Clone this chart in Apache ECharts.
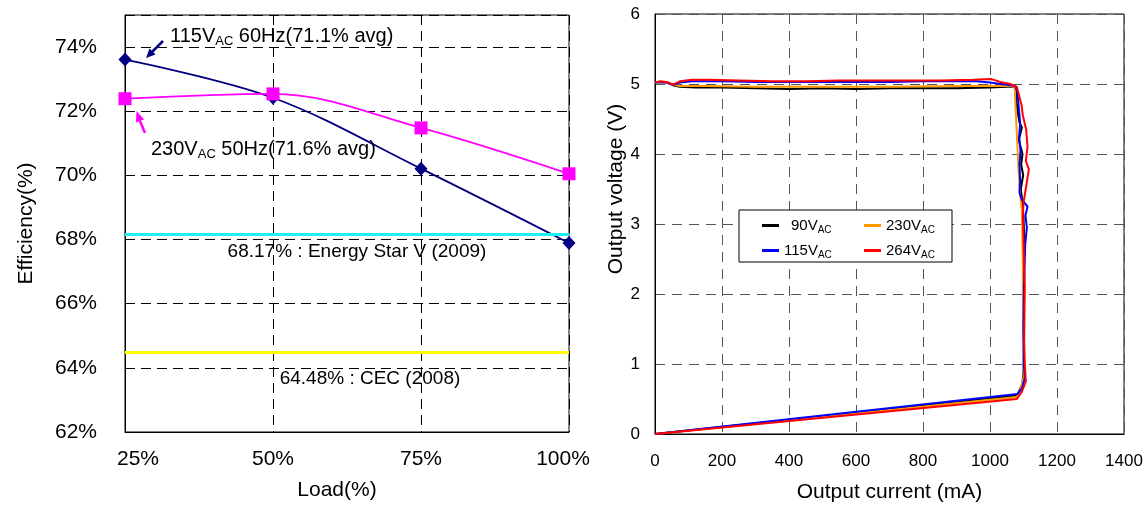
<!DOCTYPE html>
<html><head><meta charset="utf-8">
<script src="https://cdn.jsdelivr.net/npm/echarts@6/dist/echarts.min.js"></script>
<style>html,body{margin:0;padding:0;background:#fff}#c{width:1148px;height:508px}</style>
</head><body><div id="c"></div>
<script>
// ---------- Left chart data ----------
const loadCategories = [25, 50, 75, 100];
const eff115 = [73.61, 72.42, 70.21, 67.89];
const eff230 = [72.39, 72.54, 71.48, 70.05];
const energyStar = 68.17;
const cec = 64.48;
const effTicks = [62, 64, 66, 68, 70, 72, 74];

// ---------- Right chart data (mA, V) ----------
const currentTicks = [0, 200, 400, 600, 800, 1000, 1200, 1400];
const voltageTicks = [0, 1, 2, 3, 4, 5, 6];
const v90 = [[0,5.02],[15,5.03],[35,5.02],[55,4.98],[75,4.96],[120,4.95],[200,4.95],[300,4.94],[400,4.93],[500,4.94],[600,4.93],[700,4.94],[800,4.94],[900,4.94],[1000,4.95],[1050,4.96],[1072,4.96],[1078,4.9],[1079,4.75],[1083,4.6],[1088,4.45],[1095,4.38],[1086,4.2],[1097,4.0],[1093,3.85],[1099,3.7],[1092,3.5],[1097,3.3],[1100,3.1],[1102,2.8],[1100,2.4],[1101,2.0],[1100,1.6],[1101,1.2],[1100,0.9],[1097,0.72],[1088,0.62],[1080,0.55],[540,0.275],[0,0]];
const v115 = [[0,5.02],[15,5.03],[35,5.02],[55,4.99],[75,5.02],[110,5.04],[200,5.04],[300,5.03],[400,5.03],[500,5.03],[600,5.03],[700,5.03],[800,5.04],[900,5.04],[960,5.04],[1000,5.02],[1050,4.99],[1076,4.97],[1082,4.88],[1086,4.65],[1090,4.45],[1087,4.25],[1091,4.05],[1088,3.85],[1090,3.62],[1088,3.45],[1095,3.35],[1112,3.25],[1106,3.12],[1110,2.95],[1105,2.7],[1103,2.35],[1101,2.0],[1100,1.5],[1101,1.0],[1104,0.8],[1096,0.66],[1082,0.57],[540,0.285],[0,0]];
const v230 = [[0,5.02],[15,5.03],[35,5.02],[55,4.99],[75,4.97],[150,4.97],[300,4.96],[500,4.96],[700,4.96],[900,4.97],[1000,4.97],[1060,4.97],[1074,4.96],[1075,4.8],[1077,4.6],[1080,4.3],[1083,4.0],[1086,3.7],[1090,3.4],[1095,3.2],[1096,3.0],[1097,2.7],[1098,2.4],[1098,2.0],[1100,1.6],[1101,1.0],[1100,0.8],[1090,0.62],[1080,0.53],[540,0.265],[0,0]];
const v264 = [[0,5.02],[15,5.04],[35,5.03],[55,4.99],[75,5.04],[110,5.06],[160,5.06],[250,5.05],[350,5.04],[450,5.04],[550,5.05],[650,5.05],[750,5.05],[850,5.05],[950,5.06],[1005,5.07],[1030,5.03],[1060,5.0],[1080,4.96],[1086,4.85],[1094,4.7],[1098,4.55],[1108,4.35],[1112,4.1],[1107,3.9],[1116,3.78],[1110,3.6],[1105,3.45],[1100,3.3],[1098,3.1],[1100,2.8],[1102,2.4],[1104,2.1],[1103,1.8],[1102,1.3],[1104,1.0],[1107,0.75],[1095,0.6],[1080,0.5],[540,0.25],[0,0]];
const seriesNames = ['90V', '230V', '115V', '264V'];

const FONT = "'Liberation Sans', Arial, sans-serif";
const subRich = (size, sub) => ({
  n: {fontSize: size, fontFamily: FONT, color: '#000'},
  p: {fontSize: size, fontFamily: FONT, color: '#000', padding: [0, 0, 0, 7]},
  s: {fontSize: sub, fontFamily: FONT, color: '#000', verticalAlign: 'bottom', padding: [0,0,-2,0]}
});
const legendText = n => (n.length < 4 ? '{p|' : '{n|') + n + '}{s|AC}';

const chart = echarts.init(document.getElementById('c'));
const pairs = (xs, ys) => xs.map((x, i) => [x, ys[i]]);

const option = {
  animation: false,
  backgroundColor: '#fff',
  grid: [
    {left: 125, right: 579, top: 15, bottom: 76, show: true, borderColor: '#000', borderWidth: 1},
    {left: 655, right: 24, top: 14, bottom: 74, show: true, borderColor: '#000', borderWidth: 1}
  ],
  xAxis: [
    {
      gridIndex: 0, type: 'value', min: 25, max: 100, interval: 25,
      name: 'Load(%)', nameLocation: 'middle', nameGap: 48,
      nameTextStyle: {fontSize: 21, fontFamily: FONT, color: '#000', padding: [0, 20, 0, 0]},
      axisLine: {show: true, lineStyle: {color: '#000'}}, axisTick: {show: false},
      axisLabel: {
        margin: 17, color: '#000', fontSize: 21, fontFamily: FONT,
        formatter: v => v === 25 ? '{f|25%}' : (v === 100 ? '{l|100%}' : v + '%'),
        rich: {
          f: {fontSize: 21, fontFamily: FONT, color: '#000', padding: [0, 0, 0, 26]},
          l: {fontSize: 21, fontFamily: FONT, color: '#000', padding: [0, 12, 0, 0]}
        }
      },
      splitLine: {show: true, lineStyle: {color: '#000', type: [10, 6], width: 1}}
    },
    {
      gridIndex: 1, type: 'value', min: 0, max: 1400, interval: 200,
      name: 'Output current (mA)', nameLocation: 'middle', nameGap: 48,
      nameTextStyle: {fontSize: 21, fontFamily: FONT, color: '#000'},
      axisLine: {show: true, lineStyle: {color: '#000'}}, axisTick: {show: false},
      axisLabel: {margin: 19, color: '#000', fontSize: 17, fontFamily: FONT,
        formatter: v => currentTicks.includes(v) ? String(v) : ''},
      splitLine: {show: true, lineStyle: {color: '#555', type: [10, 7], width: 1}}
    }
  ],
  yAxis: [
    {
      gridIndex: 0, type: 'value', min: 62, max: 75, interval: 2,
      name: 'Efficiency(%)', nameLocation: 'middle', nameGap: 88,
      nameTextStyle: {fontSize: 21, fontFamily: FONT, color: '#000'},
      axisLine: {show: true, lineStyle: {color: '#000'}}, axisTick: {show: false},
      axisLabel: {margin: 28, color: '#000', fontSize: 21, fontFamily: FONT,
        formatter: v => effTicks.includes(v) ? v + '%' : ''},
      splitLine: {show: true, lineStyle: {color: '#000', type: [10, 6], width: 1}}
    },
    {
      gridIndex: 1, type: 'value', min: 0, max: 6, interval: 1,
      name: 'Output voltage (V)', nameLocation: 'middle', nameGap: 28,
      nameTextStyle: {fontSize: 21, fontFamily: FONT, color: '#000', padding: [0, 0, 0, 70]},
      axisLine: {show: true, lineStyle: {color: '#000'}}, axisTick: {show: false},
      axisLabel: {margin: 15, color: '#000', fontSize: 17, fontFamily: FONT,
        formatter: v => voltageTicks.includes(v) ? String(v) : ''},
      splitLine: {show: true, lineStyle: {color: '#555', type: [10, 7], width: 1}}
    }
  ],
  legend: [
    {
      left: 757, top: 213, orient: 'vertical', itemGap: 8, itemWidth: 17, itemHeight: 3,
      icon: 'rect', z: 60, data: ['90V', '115V'],
      formatter: legendText,
      textStyle: {rich: subRich(15, 10)}
    },
    {
      left: 859, top: 213, orient: 'vertical', itemGap: 8, itemWidth: 17, itemHeight: 3,
      icon: 'rect', z: 60, data: ['230V', '264V'],
      formatter: legendText,
      textStyle: {rich: subRich(15, 10)}
    }
  ],
  graphic: [
    {type: 'rect', z: 50, shape: {x: 739, y: 210, width: 213, height: 52},
      style: {fill: '#fff', stroke: '#000', lineWidth: 1}},
    {type: 'text', z: 50, x: 170, y: 26,
      style: {text: '{n|115V}{s|AC}{n| 60Hz(71.1% avg)}', rich: subRich(20, 13)}},
    {type: 'text', z: 50, x: 151, y: 139,
      style: {text: '{n|230V}{s|AC}{n| 50Hz(71.6% avg)}', rich: subRich(20, 13)}},
    {type: 'polyline', z: 50, shape: {points: [[163, 41], [152, 52]]},
      style: {stroke: '#000080', lineWidth: 2.5}},
    {type: 'polygon', z: 50, shape: {points: [[146, 58], [155.5, 54.5], [149.5, 48.5]]},
      style: {fill: '#000080'}},
    {type: 'polyline', z: 50, shape: {points: [[145, 133], [140, 121]]},
      style: {stroke: '#ff00ff', lineWidth: 2.5}},
    {type: 'polygon', z: 50, shape: {points: [[136.5, 111], [144, 119.5], [136, 122.5]]},
      style: {fill: '#ff00ff'}}
  ],
  series: [
    {
      name: 'ES', type: 'line', xAxisIndex: 0, yAxisIndex: 0, data: [], silent: true,
      markLine: {
        silent: true, symbol: 'none',
        lineStyle: {color: '#22f0f0', width: 3, type: 'solid'},
        label: {position: 'insideMiddleBottom', distance: 8, color: '#000', fontSize: 19, fontFamily: FONT,
          padding: [0, 0, 0, 20],
          formatter: () => energyStar.toFixed(2) + '% : Energy Star V (2009)'},
        data: [{yAxis: energyStar}]
      }
    },
    {
      name: 'CEC', type: 'line', xAxisIndex: 0, yAxisIndex: 0, data: [], silent: true,
      markLine: {
        silent: true, symbol: 'none',
        lineStyle: {color: '#ffff00', width: 3, type: 'solid'},
        label: {position: 'insideMiddleBottom', distance: 17, color: '#000', fontSize: 19, fontFamily: FONT,
          padding: [0, 0, 0, 46],
          formatter: () => cec.toFixed(2) + '% : CEC (2008)'},
        data: [{yAxis: cec}]
      }
    },
    {
      name: '115Vac', type: 'line', xAxisIndex: 0, yAxisIndex: 0, smooth: 0.35,
      data: pairs(loadCategories, eff115),
      symbol: 'diamond', symbolSize: [13, 14],
      lineStyle: {color: '#000080', width: 1.8}, itemStyle: {color: '#000080'}
    },
    {
      name: '230Vac', type: 'line', xAxisIndex: 0, yAxisIndex: 0, smooth: 0.35,
      data: pairs(loadCategories, eff230),
      symbol: 'rect', symbolSize: 13,
      lineStyle: {color: '#ff00ff', width: 1.8}, itemStyle: {color: '#ff00ff'}
    },
    {name: '90V', type: 'line', xAxisIndex: 1, yAxisIndex: 1, data: v90, showSymbol: false,
      lineStyle: {color: '#000', width: 2}, itemStyle: {color: '#000'}},
    {name: '230V', type: 'line', xAxisIndex: 1, yAxisIndex: 1, data: v230, showSymbol: false,
      lineStyle: {color: '#ff9900', width: 2}, itemStyle: {color: '#ff9900'}},
    {name: '115V', type: 'line', xAxisIndex: 1, yAxisIndex: 1, data: v115, showSymbol: false,
      lineStyle: {color: '#0000ff', width: 2}, itemStyle: {color: '#0000ff'}},
    {name: '264V', type: 'line', xAxisIndex: 1, yAxisIndex: 1, data: v264, showSymbol: false,
      lineStyle: {color: '#ff0000', width: 2}, itemStyle: {color: '#ff0000'}}
  ]
};
chart.setOption(option);
</script>
</body></html>
